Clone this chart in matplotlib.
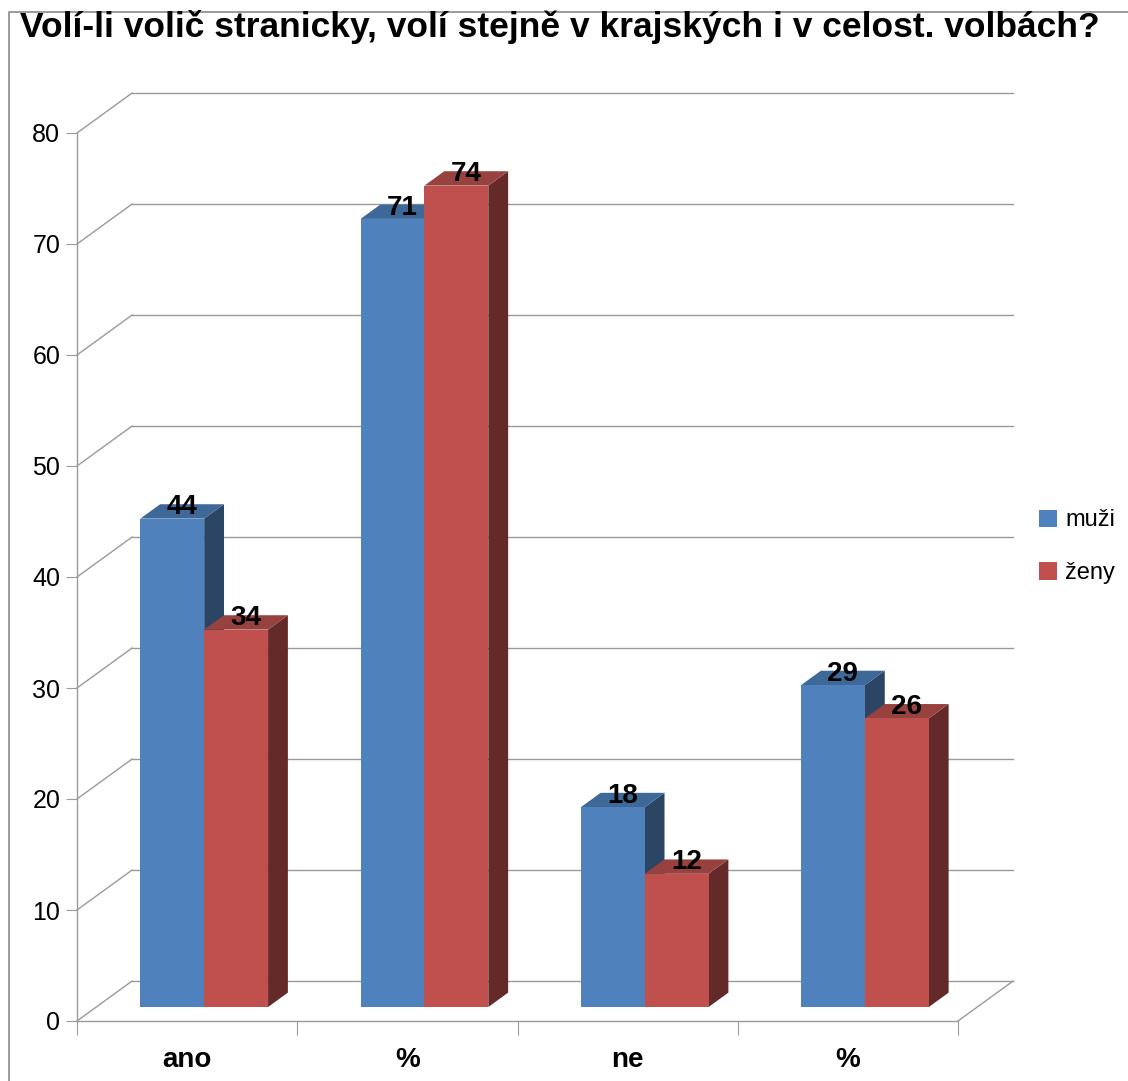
import matplotlib
matplotlib.use("Agg")
import matplotlib.pyplot as plt
from matplotlib.patches import Polygon, Rectangle, Patch
from matplotlib.lines import Line2D

title = "Volí-li volič stranicky, volí stejně v krajských i v celost. volbách?"
categories = ["ano", "%", "ne", "%"]
series_names = ["muži", "ženy"]
muzi = [44, 71, 18, 29]
zeny = [34, 74, 12, 26]
yticks = [0, 10, 20, 30, 40, 50, 60, 70, 80]

front_cols = ["#4f81bd", "#c0504d"]
top_cols = ["#3e6898", "#984240"]
side_cols = ["#2c4565", "#632a29"]
grid_col = "#9a9a9a"

plt.rcParams["font.family"] = ["Liberation Sans", "DejaVu Sans"]

W, H = 1128, 1081
fig = plt.figure(figsize=(W / 100, H / 100), dpi=100)
# front plane of the 3d box, in pixels
L, R, B, T = 77, 958, 1021, 133
ax = fig.add_axes([L / W, (H - B) / H, (R - L) / W, (B - T) / H])
ax.set_xlim(0, 4)
ax.set_ylim(0, 80)

DX, DY = 0.25, 3.6      # full depth of the box in data units
d0, d1 = 0.35, 0.71     # bar depth span
off, w = 0.2, 0.29      # bar offset and width inside category

# back wall, left wall, floor
for v in yticks:
    ax.plot([DX, 4 + DX], [v + DY, v + DY], color=grid_col, lw=1, clip_on=False, zorder=1)
    ax.plot([0, DX], [v, v + DY], color=grid_col, lw=1, clip_on=False, zorder=1)
ax.plot([4, 4 + DX], [0, DY], color=grid_col, lw=1, clip_on=False, zorder=1)

for i in range(len(categories)):
    for s, vals in enumerate([muzi, zeny]):
        v = vals[i]
        x0 = i + off + s * w
        fx, fy = x0 + d0 * DX, d0 * DY
        bx, by = x0 + d1 * DX, d1 * DY
        ax.add_patch(Polygon([(fx + w, fy), (bx + w, by), (bx + w, by + v), (fx + w, fy + v)],
                             closed=True, fc=side_cols[s], ec="none", zorder=3, clip_on=False))
        ax.add_patch(Polygon([(fx, fy + v), (fx + w, fy + v), (bx + w, by + v), (bx, by + v)],
                             closed=True, fc=top_cols[s], ec="none", zorder=3, clip_on=False))
        ax.add_patch(Rectangle((fx, fy), w, v, fc=front_cols[s], ec="none", zorder=3, clip_on=False))
        dm = (d0 + d1) / 2
        ax.annotate(str(v), (x0 + w / 2 + dm * DX, v + dm * DY), xytext=(0, 3),
                    textcoords="offset points", ha="center", va="center",
                    fontsize=20, fontweight="bold", zorder=5, annotation_clip=False)

for side in ["top", "right"]:
    ax.spines[side].set_visible(False)
for side in ["left", "bottom"]:
    ax.spines[side].set_color(grid_col)
    ax.spines[side].set_linewidth(1)
ax.set_facecolor("none")

ax.set_yticks(yticks)
ax.tick_params(axis="y", direction="out", length=8, color=grid_col, labelsize=18, pad=4)
ax.set_xticks([0, 1, 2, 3, 4])
ax.set_xticklabels([])
ax.tick_params(axis="x", which="major", direction="out", length=10, color=grid_col)
ax.set_xticks([0.5, 1.5, 2.5, 3.5], minor=True)
ax.set_xticklabels(categories, minor=True, fontsize=20, fontweight="bold")
ax.tick_params(axis="x", which="minor", length=0, pad=19)

handles = [Patch(fc=c, ec="none") for c in front_cols]
fig.legend(handles, series_names, loc="upper left", bbox_to_anchor=(1030 / W, 1 - 500 / H),
           frameon=False, fontsize=17, handlelength=0.75, handleheight=0.75,
           handletextpad=0.35, labelspacing=1.3, borderaxespad=0)

fig.text(20 / W, 1 - 10 / H, title, ha="left", va="top", fontsize=25.5, fontweight="bold")

# outer frame
fig.add_artist(Line2D([9 / W, 9 / W, 1], [0, 1 - 12 / H, 1 - 12 / H], color="#8a8a8a", lw=1.2))

fig.savefig("out.png", dpi=100)
